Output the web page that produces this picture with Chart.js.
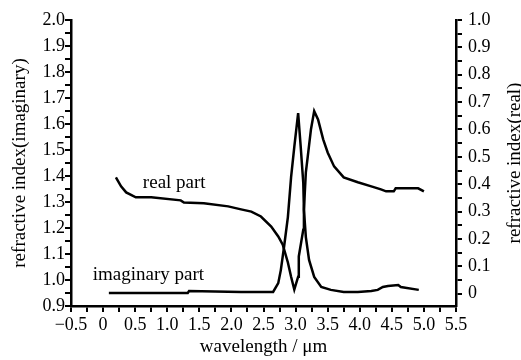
<!DOCTYPE html>
<html>
<head>
<meta charset="utf-8">
<script src="https://cdn.jsdelivr.net/npm/chart.js@4.4.1/dist/chart.umd.min.js"></script>
<style>
  html, body { margin: 0; padding: 0; background: #fff; }
  #wrap { width: 521px; height: 360px; position: relative; }
</style>
</head>
<body>
<div id="wrap"><canvas id="canvas"></canvas></div>
<script>
// real part, read against the right axis
let realWl = [0.20, 0.28, 0.36, 0.51, 0.75, 1.21, 1.26, 1.57, 1.95, 2.15, 2.31, 2.46, 2.62, 2.73, 2.80, 2.88, 2.93, 2.98,
    3.04, 3.05, 3.12, 3.13, 3.16, 3.19, 3.24, 3.29, 3.35, 3.43, 3.50, 3.60, 3.75, 3.97, 4.18, 4.33, 4.41, 4.53, 4.56, 4.91, 5.00];
let realN = [0.425, 0.392, 0.370, 0.352, 0.352, 0.341, 0.333, 0.330, 0.319, 0.308, 0.300, 0.282, 0.245, 0.209, 0.179, 0.114, 0.062, 0.015,
    0.062, 0.136, 0.234, 0.308, 0.443, 0.502, 0.601, 0.667, 0.637, 0.564, 0.516, 0.465, 0.425, 0.407, 0.392, 0.381, 0.374, 0.374, 0.385, 0.385, 0.374];

// imaginary part, read against the left axis
let imagWl = [0.09, 1.32, 1.34, 2.15, 2.65, 2.73, 2.77, 2.82, 2.88, 2.93, 2.98, 3.04, 3.08, 3.12, 3.13, 3.16, 3.21, 3.29,
    3.40, 3.55, 3.75, 3.97, 4.18, 4.28, 4.36, 4.44, 4.60, 4.64, 4.92];
let imagK = [0.950, 0.950, 0.958, 0.954, 0.954, 0.988, 1.038, 1.127, 1.242, 1.396, 1.512, 1.642, 1.512, 1.373, 1.269, 1.165, 1.077, 1.012,
    0.973, 0.962, 0.954, 0.954, 0.958, 0.962, 0.973, 0.977, 0.981, 0.973, 0.962];

// labelled ticks
let xMajor = [-0.5, 0, 0.5, 1.0, 1.5, 2.0, 2.5, 3.0, 3.5, 4.0, 4.5, 5.0, 5.5];
let leftMajor = [0.9, 1.0, 1.1, 1.2, 1.3, 1.4, 1.5, 1.6, 1.7, 1.8, 1.9, 2.0];
let rightMajor = [0, 0.1, 0.2, 0.3, 0.4, 0.5, 0.6, 0.7, 0.8, 0.9, 1.0];

const serif = '"Liberation Serif", "Times New Roman", serif';

// text next to the curves, placed in data units (x, left axis)
let curveLabels = [
    { text: 'real part', x: 0.62, y: 1.373 },
    { text: 'imaginary part', x: -0.16, y: 1.019 }
];

function toPoints(xs, ys) {
    return xs.map(function(v, i) { return { x: v, y: ys[i] }; });
}

// major ticks plus one unlabelled minor tick halfway between each pair
function withMinor(major) {
    let out = [];
    major.forEach(function(v, i) {
        out.push({ value: v });
        if (i < major.length - 1) out.push({ value: (v + major[i + 1]) / 2 });
    });
    return out;
}

function isMajor(list, v) {
    return list.some(function(m) { return Math.abs(m - v) < 1e-6; });
}

function fmt(v) {
    if (Math.abs(v) < 1e-9) return '0';
    return (v < 0 ? '\u2212' : '') + Math.abs(v).toFixed(1);
}

function axisStyle(major, extra) {
    return Object.assign({
        grid: { drawOnChartArea: false, drawTicks: true, tickLength: 6, color: '#000', lineWidth: 2 },
        border: { display: true, color: '#000', width: 2.5 },
        afterBuildTicks: function(scale) { scale.ticks = withMinor(major); },
        ticks: {
            autoSkip: false,
            maxRotation: 0,
            color: '#000',
            font: { family: serif, size: 18 },
            callback: function(v) { return isMajor(major, v) ? fmt(v) : ''; }
        }
    }, extra);
}

const labelPlugin = {
    id: 'curveLabels',
    afterDraw(chart) {
        let ctx = chart.ctx;
        let sx = chart.scales.x, sy = chart.scales.y;
        ctx.save();
        ctx.fillStyle = '#000';
        ctx.font = '19px ' + serif;
        ctx.textBaseline = 'middle';
        curveLabels.forEach(function(l) {
            ctx.fillText(l.text, sx.getPixelForValue(l.x), sy.getPixelForValue(l.y));
        });
        // right axis title reads upward like the left one
        ctx.translate(515, (chart.chartArea.top + chart.chartArea.bottom) / 2);
        ctx.rotate(-Math.PI / 2);
        ctx.textAlign = 'center';
        ctx.fillText('refractive index(real)', 0, 0);
        ctx.restore();
    }
};

let xAxis = axisStyle(xMajor, { type: 'linear', position: 'bottom', min: -0.5, max: 5.5,
    afterFit: function(scale) { scale.height = 54; },
    title: { display: true, text: 'wavelength / \u03bcm', color: '#000', font: { family: serif, size: 19 }, padding: { top: 0, bottom: 2 } }
});
xAxis.ticks.padding = 2;

let leftAxis = axisStyle(leftMajor, { type: 'linear', position: 'left', min: 0.9, max: 2.0,
    afterFit: function(scale) { scale.width = 71; },
    title: { display: true, text: 'refractive index(imaginary)', color: '#000', font: { family: serif, size: 19 }, padding: { top: 9, bottom: 0 } }
});
leftAxis.ticks.padding = 0;

let rightAxis = axisStyle(rightMajor, { type: 'linear', position: 'right', min: -0.045, max: 1.0,
    afterFit: function(scale) { scale.width = 65; }
});
rightAxis.ticks.padding = 6;

let ctx = document.getElementById('canvas').getContext('2d');
let config = {
    type: 'scatter',
    data: {
        datasets: [{
            label: 'real part',
            data: toPoints(realWl, realN),
            yAxisID: 'y1',
            showLine: true,
            borderColor: '#000',
            borderWidth: 2.5,
            pointRadius: 0,
            tension: 0
        }, {
            label: 'imaginary part',
            data: toPoints(imagWl, imagK),
            yAxisID: 'y',
            showLine: true,
            borderColor: '#000',
            borderWidth: 2.5,
            pointRadius: 0,
            tension: 0
        }]
    },
    options: {
        responsive: true,
        maintainAspectRatio: false,
        animation: false,
        layout: { padding: { top: 20, left: 0, right: 0, bottom: 0 } },
        plugins: { legend: { display: false }, tooltip: { enabled: false } },
        scales: { x: xAxis, y: leftAxis, y1: rightAxis }
    },
    plugins: [labelPlugin]
};

new Chart(ctx, config);
</script>
</body>
</html>
